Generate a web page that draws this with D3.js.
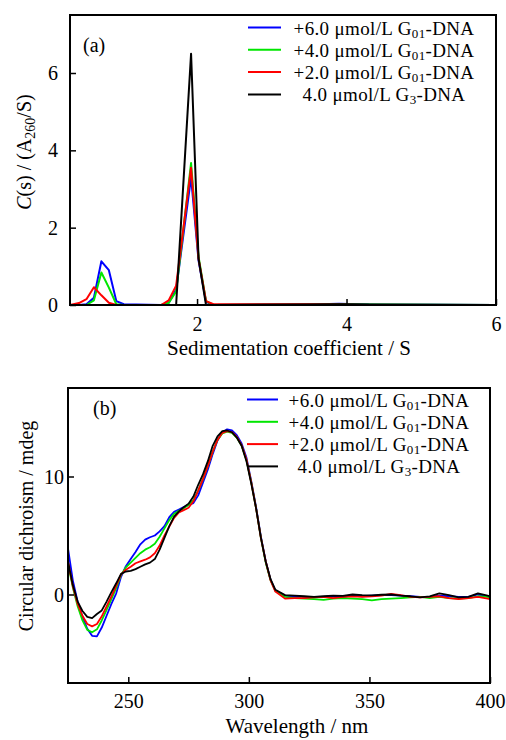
<!DOCTYPE html>
<html>
<head>
<meta charset="utf-8">
<script src="https://cdn.jsdelivr.net/npm/d3@7"></script>
<style>
  body { margin: 0; background: #fff; }
  text { font-family: "Liberation Serif", "Times New Roman", serif; }
</style>
</head>
<body>
<div id="chart"></div>
<script>
// ---- data: panel (a) sedimentation c(s) ----
var sedS = [0.3, 0.42, 0.52, 0.62, 0.72, 0.82, 0.92, 1.02, 1.52, 1.62, 1.72, 1.92, 2.02, 2.12, 2.22, 3.5, 3.9, 4.3, 6.0];
var sedBlue  = [0, 0, 0.02, 0.19, 1.13, 0.9, 0.1, 0.02, 0, 0.05, 0.4, 3.3, 1.15, 0.08, 0, 0.01, 0.03, 0.01, 0];
var sedGreen = [0, 0, 0.0, 0.12, 0.84, 0.45, 0.02, 0, 0, 0.05, 0.35, 3.67, 1.25, 0.1, 0, 0.01, 0.02, 0.01, 0];
var sedRed   = [0, 0.05, 0.15, 0.46, 0.25, 0.06, 0, 0, 0, 0.12, 0.5, 3.55, 1.2, 0.1, 0.02, 0.02, 0.01, 0, 0];
var sedBlack = [0, 0, 0, 0, 0, 0, 0, 0, 0, 0, 0, 6.5, 1.2, 0, 0, 0.01, 0.02, 0.01, 0];
var sedXTicks = [2, 4, 6];
var sedYTicks = [0, 2, 4, 6];

// ---- data: panel (b) circular dichroism ----
var cdWl = [225, 227, 229, 231, 233, 235, 237, 239, 241, 243, 245, 247, 249, 251, 253, 255, 257, 259, 261, 263,
            265, 267, 269, 271, 273, 275, 277, 279, 281, 283, 285, 287, 289, 291, 293, 295, 297, 299, 301, 303,
            305, 307, 309, 311, 315, 319, 323, 327, 331, 335, 339, 343, 347, 351, 355, 359, 363, 367, 371, 375,
            379, 383, 387, 391, 395, 399, 400];
var cdBlue = [3.9, 1.2, -0.6, -1.9, -2.9, -3.5, -3.55, -2.8, -1.8, -0.8, 0.1, 1.5, 2.4, 3.0, 3.6, 4.25, 4.65, 4.85, 5.0, 5.35,
              5.8, 6.55, 7.0, 7.2, 7.4, 7.6, 7.75, 8.4, 9.5, 10.6, 11.9, 13.05, 13.75, 14.0, 13.9, 13.5, 12.8, 11.6, 9.6, 7.4,
              4.9, 2.8, 1.25, 0.35, -0.1, -0.2, -0.2, -0.25, -0.2, -0.15, -0.2, -0.1, -0.15, -0.1, -0.05, -0.05, -0.1, -0.15, -0.2, -0.2,
              -0.1, -0.15, -0.2, -0.2, 0.0, -0.15, -0.2];
var cdGreen = [2.6, 0.6, -1.0, -2.2, -3.0, -3.2, -2.95, -2.2, -1.3, -0.4, 0.55, 1.65, 2.3, 2.7, 3.1, 3.5, 3.8, 4.0, 4.3, 4.9,
               5.6, 6.3, 6.85, 7.1, 7.3, 7.6, 8.0, 8.8, 9.8, 10.9, 12.1, 13.1, 13.65, 13.8, 13.7, 13.3, 12.6, 11.4, 9.5, 7.3,
               4.8, 2.7, 1.2, 0.3, -0.2, -0.3, -0.35, -0.4, -0.45, -0.35, -0.3, -0.35, -0.4, -0.5, -0.4, -0.35, -0.3, -0.25, -0.2, -0.3,
               -0.2, -0.3, -0.35, -0.3, -0.15, -0.2, -0.25];
var cdRed = [2.8, 0.7, -0.8, -1.8, -2.5, -2.7, -2.5, -1.85, -1.0, -0.15, 0.75, 1.7, 2.1, 2.35, 2.65, 2.8, 2.95, 3.15, 3.5, 4.15,
             5.0, 5.75, 6.5, 6.95, 7.15, 7.35, 7.9, 8.8, 9.8, 10.9, 12.1, 13.1, 13.7, 13.85, 13.75, 13.35, 12.65, 11.45, 9.5, 7.3,
             4.8, 2.8, 1.2, 0.25, -0.35, -0.3, -0.3, -0.25, -0.2, -0.3, -0.2, -0.15, -0.2, -0.15, -0.1, 0.05, -0.05, -0.2, -0.25, -0.2,
             -0.15, -0.3, -0.4, -0.3, -0.2, -0.35, -0.4];
var cdBlack = [2.8, 0.8, -0.6, -1.4, -1.9, -2.0, -1.65, -1.35, -0.6, 0.2, 0.95, 1.75, 1.95, 2.0, 2.15, 2.35, 2.55, 2.7, 3.0, 3.8,
               4.8, 5.8, 6.6, 7.05, 7.4, 7.7, 8.3, 9.3, 10.2, 11.3, 12.6, 13.4, 13.85, 13.9, 13.75, 13.3, 12.6, 11.3, 9.4, 7.3,
               4.8, 2.8, 1.3, 0.4, -0.05, -0.1, -0.15, -0.2, -0.15, -0.1, -0.12, 0.0, -0.05, -0.08, -0.02, 0.0, -0.1, -0.15, -0.25, -0.15,
               0.1, -0.05, -0.25, -0.2, 0.1, -0.1, -0.15];
var cdXTicks = [250, 300, 350, 400];
var cdYTicks = [0, 10];

// ---- legend ----
var legendPre = ['+6.0 \u03bcmol/L G', '+4.0 \u03bcmol/L G', '+2.0 \u03bcmol/L G', '4.0 \u03bcmol/L G'];
var legendSub = ['01', '01', '01', '3'];
var legendPost = ['-DNA', '-DNA', '-DNA', '-DNA'];
var colors = ['#0000ff', '#00e600', '#ff0000', '#000000'];

var svg = d3.select('#chart').append('svg')
    .attr('width', 506)
    .attr('height', 740);

function drawPanel(p) {
  var x = d3.scaleLinear().domain(p.xDomain).range([p.left, p.right]);
  var y = d3.scaleLinear().domain(p.yDomain).range([p.bottom, p.top]);

  var g = svg.append('g');

  // curves
  var line = d3.line()
      .x(function(d) { return x(d[0]); })
      .y(function(d) { return y(d[1]); });
  p.series.forEach(function(vals, i) {
    g.append('path')
        .datum(p.xs.map(function(v, j) { return [v, vals[j]]; }))
        .attr('d', line)
        .attr('fill', 'none')
        .attr('stroke', colors[i])
        .attr('stroke-width', p.lineWidth)
        .attr('stroke-linejoin', 'round');
  });

  // axes with inward ticks
  var xAxis = g.append('g')
      .attr('transform', 'translate(0,' + p.bottom + ')')
      .call(d3.axisBottom(x).tickValues(p.xTicks).tickSize(-6).tickFormat(d3.format('d')));
  xAxis.selectAll('text').attr('y', p.xTickY).attr('dy', 0).style('font-size', '20px').style('fill', '#000');

  var yAxis = g.append('g')
      .attr('transform', 'translate(' + p.left + ',0)')
      .call(d3.axisLeft(y).tickValues(p.yTicks).tickSize(-6).tickFormat(d3.format('d')));
  yAxis.selectAll('text').attr('x', p.yTickX).attr('dy', '0.33em').style('font-size', '20px').style('fill', '#000');

  g.selectAll('.domain').remove();
  g.selectAll('.tick line').attr('stroke', '#000').attr('stroke-width', 1.5);

  // frame
  g.append('rect')
      .attr('x', p.left).attr('y', p.top)
      .attr('width', p.right - p.left).attr('height', p.bottom - p.top)
      .attr('fill', 'none').attr('stroke', '#000').attr('stroke-width', 2);

  // legend
  legendPre.forEach(function(t, i) {
    var ly = p.legendY + i * 22.3;
    g.append('line')
        .attr('x1', p.legendX1).attr('x2', p.legendX2)
        .attr('y1', ly).attr('y2', ly)
        .attr('stroke', colors[i]).attr('stroke-width', 2);
    var txt = g.append('text')
        .attr('x', p.legendTextX)
        .attr('y', ly + 7)
        .attr('text-anchor', 'middle')
        .style('font-size', '19px')
        .style('letter-spacing', '0.35px');
    txt.append('tspan').text(t);
    txt.append('tspan').attr('dy', 3).style('font-size', '13px').text(legendSub[i]);
    txt.append('tspan').attr('dy', -3).text(legendPost[i]);
  });

  // panel tag
  g.append('text')
      .attr('x', p.tagX).attr('y', p.tagY)
      .style('font-size', '20px')
      .text(p.tag);

  return g;
}

var gA = drawPanel({
  left: 70, right: 496, top: 15, bottom: 305,
  xDomain: [0.3, 6], yDomain: [0, 7.5],
  xs: sedS, series: [sedBlue, sedGreen, sedRed, sedBlack],
  xTicks: sedXTicks, yTicks: sedYTicks,
  xTickY: 26, yTickX: -12,
  lineWidth: 2,
  legendY: 27.5, legendX1: 248, legendX2: 281, legendTextX: 384,
  tag: '(a)', tagX: 83, tagY: 52
});

var gB = drawPanel({
  left: 68, right: 490, top: 388, bottom: 683,
  xDomain: [225, 400], yDomain: [-7.5, 17.5],
  xs: cdWl, series: [cdBlue, cdGreen, cdRed, cdBlack],
  xTicks: cdXTicks, yTicks: cdYTicks,
  xTickY: 25, yTickX: -4,
  lineWidth: 1.8,
  legendY: 399.5, legendX1: 247, legendX2: 278, legendTextX: 379,
  tag: '(b)', tagX: 93, tagY: 415
});

// axis titles
svg.append('text')
    .attr('x', 289).attr('y', 355)
    .attr('text-anchor', 'middle')
    .style('font-size', '21px')
    .text('Sedimentation coefficient / S');

var yLabA = svg.append('text')
    .attr('transform', 'translate(31,152) rotate(-90)')
    .attr('text-anchor', 'middle')
    .style('font-size', '20px');
yLabA.append('tspan').style('font-style', 'italic').text('C');
yLabA.append('tspan').text('(s) / (A');
yLabA.append('tspan').attr('dy', 4).style('font-size', '14px').text('260');
yLabA.append('tspan').attr('dy', -4).text('/S)');

svg.append('text')
    .attr('x', 297).attr('y', 733)
    .attr('text-anchor', 'middle')
    .style('font-size', '21px')
    .text('Wavelength / nm');

svg.append('text')
    .attr('transform', 'translate(33,526) rotate(-90)')
    .attr('text-anchor', 'middle')
    .style('font-size', '20px')
    .text('Circular dichroism / mdeg');
</script>
</body>
</html>
